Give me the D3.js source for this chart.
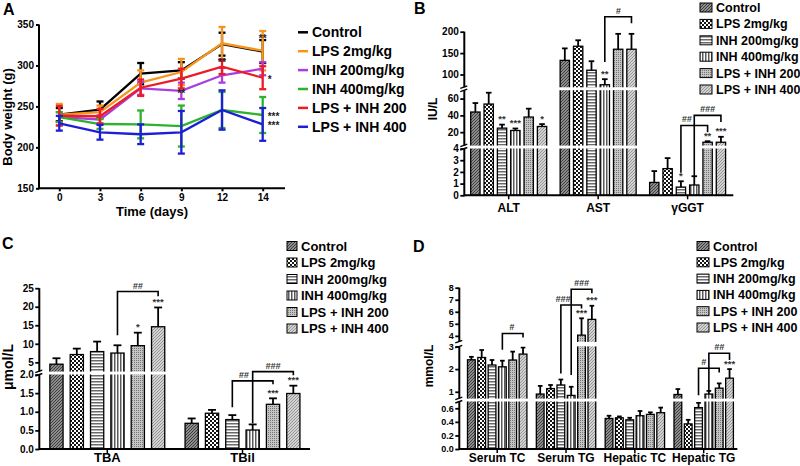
<!DOCTYPE html>
<html><head><meta charset="utf-8">
<script src="https://cdn.jsdelivr.net/npm/d3@7"></script>
<style>
body{margin:0;background:#fff;}
text{font-family:Arial,"Liberation Sans",sans-serif;font-weight:bold;}
</style></head><body>
<svg id="c" width="800" height="466"></svg>
<script>
// ---------------- DATA ----------------
const seriesNames = ["Control","LPS 2mg/kg","INH 200mg/kg","INH 400mg/kg","LPS + INH 200","LPS + INH 400"];
const lineColors = ["#000000","#f7941d","#a83ee0","#2db22d","#ed1c24","#1c1fd6"];

// Panel A: body weight (g)
const days = ["0","3","6","9","12","14"];
const bwMean = [
  [240,246,290,294,326,317],   // Control
  [240,243,279,292,327,318],   // LPS
  [237,234,272,269,288,296],   // INH 200
  [237,228.5,228,226,245.6,239.5], // INH 400
  [238.6,238,272.8,284,298.5,285], // LPS+INH200
  [229.4,218.4,216,218.4,245.6,228] // LPS+INH400
];
const bwErr = [
  [8,10,13,10,14,14],
  [13,8,15,16,20,24],
  [6,5,8,10,9,8],
  [6,6,17,25,22,22],
  [12,9,10,12,9,14],
  [9,9,12,26,24,20]
];
const ticksA = [150,200,250,300,350];
const starsA = [["14",285,"*"],["14",240,"***"],["14",228,"***"]];
const marksA = [["9",267,"**"],["12",305,"**"],["14",335,"**"]];

// Panel B: IU/L
const groupsB = ["ALT","AST","γGGT"];
const valB = [[44,133,1.1],[53.5,166,2.28],[24.8,110,0.7],[22,76,0.88],[38,159,8],[26.8,159,8]];
const errB = [[10.7,28,0.97],[13.5,14,0.9],[4.2,21,0.5],[2.4,13,0.75],[10,36,1.2],[2.8,36,6.5]];
const starB = [["","",""],["","",""],["**","","*"],["***","**",""],["","","**"],["*","","***"]];
const ticksB = [[0,1,2,3,4],[20,40,60],[100,150,200]];
const domB = [[0,4],[4,70],[70,200]];
const bracketB = [
  {g:"AST",a:3,b:5,level:235,da:129,db:220,label:"#",f:0.5},
  {g:"γGGT",a:2,b:4,level:28,da:1.93,db:20,label:"##",f:0.22},
  {g:"γGGT",a:3,b:5,level:40,da:1.63,db:32,label:"###",f:0.5}
];

// Panel C: µmol/L
const groupsC = ["TBA","TBil"];
const valC = [[4.5,0.69],[7.1,0.96],[7.9,0.79],[7.5,0.51],[9.5,1.2],[14.6,1.49]];
const errC = [[1.6,0.13],[1.6,0.09],[2.7,0.12],[2.1,0.15],[3.5,0.16],[5.2,0.21]];
const starC = [["",""],["",""],["",""],["",""],["*","***"],["***","***"]];
const ticksC = [[0,0.5,1,1.5,2],[5,10,15,20,25]];
const domC = [[0,2],[2.5,25]];
const bracketC = [
  {g:"TBA",a:3,b:5,level:24.1,da:12.3,db:22.8,label:"##",f:0.5},
  {g:"TBil",a:2,b:4,level:1.83,da:1.12,db:1.74,label:"##",f:0.28},
  {g:"TBil",a:3,b:5,level:2.5,da:0.69,db:1.98,label:"###",f:0.5}
];

// Panel D: mmol/L
const groupsD = ["Serum TC","Serum TG","Hepatic TC","Hepatic TG"];
const valD = [[2.41,0.9,0.45,0.88],[2.51,1.14,0.46,0.37],[2.18,1.3,0.43,0.61],[2.1,0.84,0.49,0.9],[2.4,4.06,0.51,1.16],[2.66,5.37,0.535,1.6]];
const errD = [[0.13,0.36,0.04,0.24],[0.33,0.16,0.02,0.06],[0.22,0.24,0.03,0.07],[0.27,0.38,0.07,0.14],[0.37,1.4,0.03,0.21],[0.29,1.13,0.075,0.4]];
const starD = [["","","",""],["","","",""],["","","",""],["","","",""],["","***","",""],["","***","","***"]];
const ticksD = [[0,0.2,0.4,0.6],[1,2,3],[4,5,6,7,8]];
const domD = [[0,0.7],[0.7,3],[3.5,8]];
const bracketD = [
  {g:"Serum TC",a:3,b:5,level:4.2,da:2.85,db:3.87,label:"#",f:0.45},
  {g:"Serum TG",a:2,b:4,level:6.56,da:1.81,db:6.28,label:"###",f:0.1},
  {g:"Serum TG",a:3,b:5,level:7.87,da:1.74,db:7.53,label:"###",f:0.5},
  {g:"Hepatic TG",a:2,b:4,level:2.04,da:0.85,db:1.85,label:"#",f:0.25},
  {g:"Hepatic TG",a:3,b:5,level:2.7,da:1.0,db:2.4,label:"##",f:0.5}
];

// ---------------- DRAW ----------------
const svg = d3.select("#c");
const defs = svg.append("defs");
function pat(id,w,h,bg,draw){
  const p = defs.append("pattern").attr("id",id).attr("patternUnits","userSpaceOnUse").attr("width",w).attr("height",h);
  p.append("rect").attr("width",w).attr("height",h).attr("fill",bg);
  draw(p);
}
pat("p0",3,3,"#8c8c8c",p=>p.append("path").attr("d","M0,3L3,0M-1,1L1,-1M2,4L4,2").attr("stroke","#3e3e3e").attr("stroke-width",1));
pat("p1",4,4,"#151515",p=>{p.append("rect").attr("x",0).attr("y",0).attr("width",2).attr("height",2).attr("fill","#fff");p.append("rect").attr("x",2).attr("y",2).attr("width",2).attr("height",2).attr("fill","#fff");});
pat("p2",3,3,"#ffffff",p=>p.append("rect").attr("width",3).attr("height",1.5).attr("fill","#6a6a6a"));
pat("p3",3,3,"#ffffff",p=>p.append("rect").attr("width",1.5).attr("height",3).attr("fill","#5a5a5a"));
pat("p4",2,2,"#c4c4c4",p=>p.append("rect").attr("width",1).attr("height",1).attr("fill","#767676"));
pat("p5",3,3,"#d2d2d2",p=>p.append("path").attr("d","M0,3L3,0").attr("stroke","#8e8e8e").attr("stroke-width",0.9));
const fills = ["url(#p0)","url(#p1)","url(#p2)","url(#p3)","url(#p4)","url(#p5)"];

function letter(t,x,y){svg.append("text").attr("x",x).attr("y",y).attr("font-size",16).text(t);}

// ----- Panel A -----
(function(){
  const g = svg.append("g");
  const ax = 39, base = 188.3, xEnd = 285;
  const y = d3.scaleLinear().domain([150,350]).range([188.3,24.5]);
  const x = d3.scalePoint().domain(days).range([59.3,262.7]);
  const ya = g.append("g").attr("transform",`translate(${ax},0)`).call(d3.axisLeft(y).tickValues(ticksA).tickSize(3).tickPadding(2));
  const xa = g.append("g").attr("transform",`translate(0,${base})`).call(d3.axisBottom(x).tickSize(3).tickPadding(3));
  [ya,xa].forEach(a=>{a.select(".domain").remove();a.selectAll("line").attr("stroke","#000").attr("stroke-width",2);a.selectAll("text").attr("font-size",10).attr("font-family","Arial").attr("font-weight","bold").attr("fill","#000");});
  g.append("line").attr("x1",ax).attr("x2",ax).attr("y1",24.5).attr("y2",base+1).attr("stroke","#000").attr("stroke-width",2);
  g.append("line").attr("x1",ax).attr("x2",xEnd).attr("y1",base).attr("y2",base).attr("stroke","#000").attr("stroke-width",2);
  g.append("text").attr("transform","translate(12,117) rotate(-90)").attr("text-anchor","middle").attr("font-size",13).text("Body weight (g)");
  g.append("text").attr("x",152).attr("y",216).attr("text-anchor","middle").attr("font-size",13).text("Time (days)");
  const line = d3.line().x((d,i)=>x(days[i])).y(d=>y(d));
  bwMean.forEach((s,k)=>{
    const c = lineColors[k];
    g.append("path").attr("d",line(s)).attr("fill","none").attr("stroke",c).attr("stroke-width",2.3);
    s.forEach((m,i)=>{
      const e = bwErr[k][i], xx = x(days[i]);
      g.append("line").attr("x1",xx).attr("x2",xx).attr("y1",y(m-e)).attr("y2",y(m+e)).attr("stroke",c).attr("stroke-width",2.3);
      [m-e,m+e].forEach(v=>g.append("line").attr("x1",xx-3.5).attr("x2",xx+3.5).attr("y1",y(v)).attr("y2",y(v)).attr("stroke",c).attr("stroke-width",2.3));
    });
  });
  starsA.forEach(s=>g.append("text").attr("x",x(s[0])+5).attr("y",y(s[1])+5).attr("font-size",10).attr("fill","#222").text(s[2]));
  marksA.forEach(s=>g.append("text").attr("x",x(s[0])).attr("y",y(s[1])+5).attr("text-anchor","middle").attr("font-size",10).attr("fill","#222").text(s[2]));
  seriesNames.forEach((n,k)=>{
    const yy = 32.3 + k*18.9;
    g.append("line").attr("x1",298).attr("x2",308).attr("y1",yy).attr("y2",yy).attr("stroke",lineColors[k]).attr("stroke-width",2.5);
    g.append("text").attr("x",312).attr("y",yy+5).attr("font-size",14).text(n);
  });
  letter("A",3,15);
})();

// ----- Bar panels -----
function broken(segs){
  const sc = segs.map(s=>d3.scaleLinear().domain(s.d).range(s.r));
  return v=>{
    for(let k=0;k<segs.length;k++){
      const s=segs[k];
      if(v<=s.d[1] || k===segs.length-1){
        if(k>0 && v<s.d[0]){const p=segs[k-1];const t=(v-p.d[1])/(s.d[0]-p.d[1]);return p.r[1]+t*(s.r[0]-p.r[1]);}
        return sc[k](v);
      }
    }
  };
}
function barPanel(c){
  const g = svg.append("g");
  const yf = broken(c.segs);
  const xg = d3.scalePoint().domain(c.groups).range(c.centers);
  const xb = d3.scaleBand().domain(d3.range(6)).range([-c.half,c.half]).paddingInner(c.pad).paddingOuter(c.pad/2);
  const bw = xb.bandwidth();
  // bars
  c.vals.forEach((s,i)=>s.forEach((v,j)=>{
    const x0 = xg(c.groups[j])+xb(i);
    g.append("rect").attr("x",x0).attr("y",yf(v)).attr("width",bw).attr("height",c.base-yf(v)).attr("fill",fills[i]).attr("stroke","#000").attr("stroke-width",1.3);
    const e = c.errs[i][j], xc = x0+bw/2;
    g.append("line").attr("x1",xc).attr("x2",xc).attr("y1",yf(v)).attr("y2",yf(v+e)).attr("stroke","#000").attr("stroke-width",1.8);
    g.append("line").attr("x1",xc-bw*0.3).attr("x2",xc+bw*0.3).attr("y1",yf(v+e)).attr("y2",yf(v+e)).attr("stroke","#000").attr("stroke-width",1.8);
  }));
  // white gaps
  for(let k=0;k<c.segs.length-1;k++){
    const top = c.segs[k+1].r[0], bot = c.segs[k].r[1];
    g.append("rect").attr("x",c.ax+1.2).attr("y",top).attr("width",c.xEnd-c.ax).attr("height",bot-top).attr("fill","#fff");
  }
  // y axis segments
  c.segs.forEach((s,k)=>{
    const sc = d3.scaleLinear().domain(s.d).range(s.r);
    const a = g.append("g").attr("transform",`translate(${c.ax},0)`).call(d3.axisLeft(sc).tickValues(s.t).tickFormat(c.fmt[k]).tickSize(4).tickPadding(1.5));
    a.select(".domain").remove();
    a.selectAll("line").attr("stroke","#000").attr("stroke-width",1.8);
    a.selectAll("text").attr("font-size",c.tickFs).attr("font-family","Arial").attr("font-weight","bold").attr("fill","#000");
    g.append("line").attr("x1",c.ax).attr("x2",c.ax).attr("y1",s.r[0]+(k===0?1:0)).attr("y2",s.r[1]).attr("stroke","#000").attr("stroke-width",2);
    if(k<c.segs.length-1) g.append("line").attr("x1",c.ax-4).attr("x2",c.ax+3).attr("y1",s.r[1]+1.5).attr("y2",s.r[1]-1).attr("stroke","#000").attr("stroke-width",1.4);
    if(k>0) g.append("line").attr("x1",c.ax-4).attr("x2",c.ax+3).attr("y1",s.r[0]+1).attr("y2",s.r[0]-1.5).attr("stroke","#000").attr("stroke-width",1.4);
  });
  // x axis
  g.append("line").attr("x1",c.ax).attr("x2",c.xEnd).attr("y1",c.base).attr("y2",c.base).attr("stroke","#000").attr("stroke-width",2);
  c.groups.forEach(gr=>{
    g.append("line").attr("x1",xg(gr)).attr("x2",xg(gr)).attr("y1",c.base).attr("y2",c.base+4).attr("stroke","#000").attr("stroke-width",1.5);
    g.append("text").attr("x",xg(gr)).attr("y",c.base+c.labDy).attr("text-anchor","middle").attr("font-size",c.labFs).text(gr);
  });
  g.append("text").attr("transform",`translate(${c.ytx},${c.yty}) rotate(-90)`).attr("text-anchor","middle").attr("font-size",c.ytFs).text(c.ytitle);
  // stars
  c.stars.forEach((s,i)=>s.forEach((t,j)=>{
    if(!t) return;
    const xc = xg(c.groups[j])+xb(i)+bw/2;
    g.append("text").attr("x",xc).attr("y",yf(c.vals[i][j]+c.errs[i][j])-2.5).attr("text-anchor","middle").attr("font-size",9.5).attr("font-weight","normal").attr("fill","#333").text(t);
  }));
  // brackets
  c.brackets.forEach(b=>{
    const xa = xg(b.g)+xb(b.a)+bw/2, xbb = xg(b.g)+xb(b.b)+bw/2;
    g.append("path").attr("d",`M${xa},${yf(b.da)}V${yf(b.level)}H${xbb}V${yf(b.db)}`).attr("fill","none").attr("stroke","#000").attr("stroke-width",1.6);
    g.append("text").attr("x",xa+b.f*(xbb-xa)).attr("y",yf(b.level)-3).attr("text-anchor","middle").attr("font-size",9).attr("font-weight","normal").attr("font-style","italic").attr("fill","#333").text(b.label);
  });
  // legend
  seriesNames.forEach((n,k)=>{
    const yy = c.leg[1]+k*c.leg[2];
    g.append("rect").attr("x",c.leg[0]).attr("y",yy-4.5).attr("width",c.leg[3]).attr("height",9).attr("fill",fills[k]).attr("stroke","#000").attr("stroke-width",1);
    g.append("text").attr("x",c.leg[0]+c.leg[3]+4).attr("y",yy+4.5).attr("font-size",c.leg[4]).text(n);
  });
}
const f0 = d3.format("d"), f1 = d3.format(".1f");
barPanel({groups:groupsB,vals:valB,errs:errB,stars:starB,brackets:bracketB,
  segs:[{d:domB[0],r:[195.3,148.5],t:ticksB[0]},{d:domB[1],r:[145.6,90.2],t:ticksB[1]},{d:domB[2],r:[87.3,31.7],t:ticksB[2]}],
  fmt:[f0,f0,f0],tickFs:10,centers:[508.7,687.6],half:40,pad:0.3,ax:464.3,xEnd:733.3,base:195.3,labDy:17,labFs:12,
  ytitle:"IU/L",ytx:437,yty:109,ytFs:12,leg:[700,7.5,16.4,12,12.5]});
barPanel({groups:groupsC,vals:valC,errs:errC,stars:starC,brackets:bracketC,
  segs:[{d:domC[0],r:[449,374.5],t:ticksC[0]},{d:domC[1],r:[371.6,288.2],t:ticksC[1]}],
  fmt:[f1,f0],tickFs:10,centers:[107.3,242.5],half:61,pad:0.35,ax:39.3,xEnd:310,base:449,labDy:13,labFs:13,
  ytitle:"μmol/L",ytx:13,yty:367,ytFs:14,leg:[287,246,16.5,10,13]});
barPanel({groups:groupsD,vals:valD,errs:errD,stars:starD,brackets:bracketD,
  segs:[{d:domD[0],r:[449,401.5],t:ticksD[0]},{d:domD[1],r:[398.6,346.4],t:ticksD[1]},{d:domD[2],r:[341.9,287.7],t:ticksD[2]}],
  fmt:[f1,f0,f0],tickFs:9,centers:[497.2,703.7],half:31,pad:0.25,ax:459.3,xEnd:737.3,base:449,labDy:13,labFs:12,
  ytitle:"mmol/L",ytx:433,yty:366,ytFs:12,leg:[697,246,16.3,12,12.5]});
letter("B",414,14);
letter("C",2,249);
letter("D",413,252);
</script>
</body></html>
